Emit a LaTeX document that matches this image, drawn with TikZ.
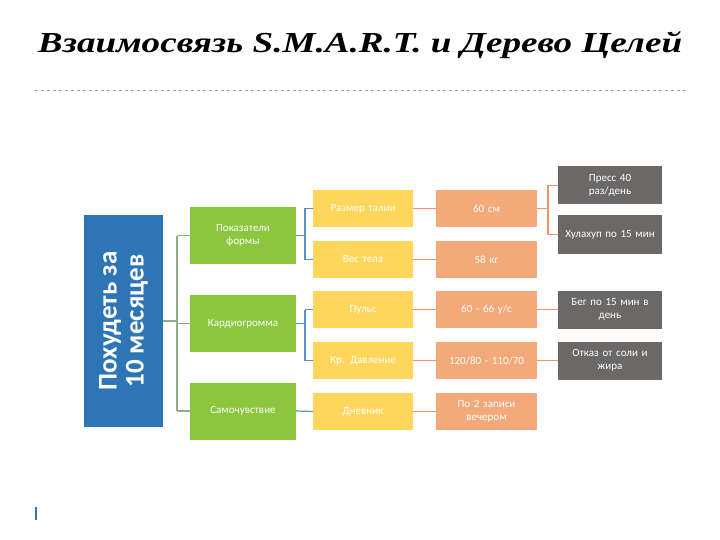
\documentclass[tikz,border=0pt]{standalone}
\usepackage{fontspec}
\setmainfont{Carlito}
\newfontfamily\titlefont{Liberation Serif}
\definecolor{cblue}{HTML}{2E75B6}
\definecolor{cgreen}{HTML}{8CC63F}
\definecolor{cyel}{HTML}{FFD65C}
\definecolor{corg}{HTML}{F4A97A}
\definecolor{cgray}{HTML}{6B6868}
\begin{document}
\begin{tikzpicture}[x=1pt,y=-1pt,
  bx/.style={inner sep=1pt,align=center,text=white,font=\fontsize{11}{12.5}\selectfont,minimum height=#1},
  grn/.style={bx=57pt,fill=cgreen,minimum width=106pt,text width=100pt},
  yel/.style={bx=37pt,fill=cyel,minimum width=100pt,text width=96pt},
  org/.style={bx=37pt,fill=corg,minimum width=101pt,text width=96pt},
  gry/.style={bx=38pt,fill=cgray,minimum width=104pt,text width=100pt},
  gl/.style={draw=green!30!black!45,line width=1.2pt},
  bl/.style={draw=cblue!80,line width=1.2pt},
  ol/.style={draw=corg!85!red,line width=1.2pt}]
\useasboundingbox (0,0) rectangle (720,540);
\fill[white] (0,0) rectangle (720,540);
\node[font=\titlefont\bfseries\itshape\fontsize{29}{32}\selectfont,anchor=center,xscale=1.28] (title) at (360,45) {Взаимосвязь S.M.A.R.T. и Дерево Целей};
\draw[black!35,dashed,line width=0.6pt] (35,90) -- (688,90);
\fill[cblue] (35,507) rectangle (37,520);
\node[fill=cblue,minimum width=79pt,minimum height=212pt,inner sep=0] (root) at (123.5,321) {};
\node[rotate=90,text=white,align=center,font=\bfseries\fontsize{27}{27}\selectfont] at (root.center) {Похудеть за\\10 месяцев};
\node[grn] (g1) at (243,235.5) {Показатели\\формы};
\node[grn] (g2) at (243,323.5) {Кардиогромма};
\node[grn] (g3) at (243,411) {Самочувствие};
\node[yel] (y1) at (363,208.5) {Размер талии};
\node[yel] (y2) at (363,259.5) {Вес тела};
\node[yel] (y3) at (363,309.5) {Пульс};
\node[yel] (y4) at (363,360.5) {Кр. Давление};
\node[yel] (y5) at (363,411.5) {Дневник};
\node[org] (o1) at (486.5,208.5) {60 см};
\node[org] (o2) at (486.5,259.5) {58 кг};
\node[org] (o3) at (486.5,309.5) {60 - 66 у/с};
\node[org] (o4) at (486.5,360.5) {120/80 - 110/70};
\node[org] (o5) at (486.5,411.5) {По 2 записи\\вечером};
\node[gry] (k1) at (610,185.5) {Пресс 40\\раз/день};
\node[gry] (k2) at (610,234.5) {Хулахуп по 15 мин};
\node[gry] (k3) at (610,309.5) {Бег по 15 мин в\\день};
\node[gry] (k4) at (610,360.5) {Отказ от соли и\\жира};
\coordinate (rj) at (177,321);
\draw[gl] (root.east) -- (rj);
\draw[gl] (177,235.5) -- (177,411);
\foreach \g in {g1,g2,g3} \draw[gl] (177,0 |- \g.west) -- (\g.west);
\draw[bl] (g1.east) -- (305,0 |- g1.east);
\draw[bl] (305,208.5) -- (305,259.5);
\foreach \y in {y1,y2} \draw[bl] (305,0 |- \y.west) -- (\y.west);
\draw[bl] (g2.east) -- (305,0 |- g2.east);
\draw[bl] (305,309.5) -- (305,360.5);
\foreach \y in {y3,y4} \draw[bl] (305,0 |- \y.west) -- (\y.west);
\draw[bl] (g3.east) -- (y5.west);
\foreach \i in {1,...,5} \draw[ol] (y\i.east) -- (o\i.west);
\draw[ol] (o1.east) -- (548,208.5);
\draw[ol] (548,185.5) -- (548,234.5);
\foreach \k in {k1,k2} \draw[ol] (548,0 |- \k.west) -- (\k.west);
\draw[ol] (o3.east) -- (k3.west);
\draw[ol] (o4.east) -- (k4.west);
\end{tikzpicture}
\end{document}
